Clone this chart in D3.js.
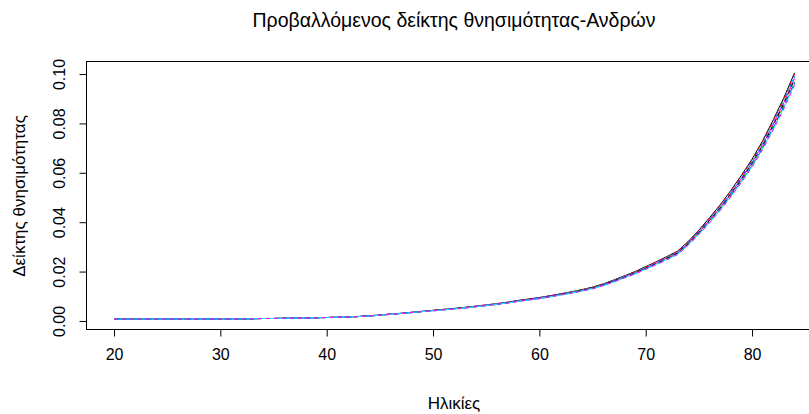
<!DOCTYPE html>
<html>
<head>
<meta charset="utf-8">
<script src="https://d3js.org/d3.v7.min.js"></script>
<style>
body { margin: 0; background: #fff; }
text { font-family: "Liberation Sans", Arial, sans-serif; fill: #000; }
</style>
</head>
<body>
<svg width="809" height="414"></svg>
<script>
// ages on the x axis
const ages = [20,21,22,23,24,25,26,27,28,29,30,31,32,33,34,35,36,37,38,39,
  40,41,42,43,44,45,46,47,48,49,50,51,52,53,54,55,56,57,58,59,
  60,61,62,63,64,65,66,67,68,69,70,71,72,73,74,75,76,77,78,79,
  80,81,82,83,84];

// projected male mortality rates, one array per projection (ages 20..84)
const proj01 = [.0008,.0008,.0008,.0008,.0008,.0008,.0008,.0008,.0008,.0008,.0008,.0008,.0008,.0009,.0010,.0010,.0011,.0011,.0012,.0013,.0014,.0015,.0016,.0018,.0021,.0024,.0028,.0031,.0035,.0039,
  .0043,.0047,.0051,.0055,.0060,.0065,.0070,.0076,.0083,.0089,.0095,.0102,.0110,.0118,.0127,.0137,.0150,.0166,.0183,.0200,.0220,.0240,.0261,.0283,.0322,.0368,.0418,.0470,.0528,.0590,.0655,.0730,.0815,.0905,.1005];
const proj02 = [.0008,.0008,.0008,.0008,.0008,.0008,.0008,.0008,.0008,.0008,.0008,.0008,.0008,.0009,.0010,.0010,.0011,.0011,.0012,.0013,.0014,.0015,.0016,.0018,.0021,.0024,.0028,.0031,.0035,.0039,
  .0043,.0047,.0051,.0055,.0060,.0065,.0070,.0076,.0083,.0089,.0095,.0102,.0110,.0117,.0126,.0136,.0149,.0165,.0182,.0199,.0219,.0239,.0260,.0282,.0321,.0366,.0416,.0468,.0526,.0587,.0652,.0727,.0811,.0901,.1000];
const proj03 = [.0008,.0008,.0008,.0008,.0008,.0008,.0008,.0008,.0008,.0008,.0008,.0008,.0008,.0009,.0010,.0010,.0011,.0011,.0012,.0013,.0014,.0015,.0016,.0018,.0021,.0024,.0028,.0031,.0035,.0039,
  .0043,.0047,.0051,.0055,.0059,.0064,.0069,.0075,.0082,.0088,.0094,.0101,.0109,.0117,.0126,.0136,.0149,.0165,.0181,.0198,.0218,.0238,.0259,.0280,.0319,.0365,.0414,.0466,.0523,.0585,.0649,.0723,.0808,.0897,.0996];
const proj04 = [.0008,.0008,.0008,.0008,.0008,.0008,.0008,.0008,.0008,.0008,.0008,.0008,.0008,.0009,.0010,.0010,.0011,.0011,.0012,.0013,.0014,.0015,.0016,.0018,.0021,.0024,.0028,.0031,.0035,.0039,
  .0043,.0046,.0050,.0054,.0059,.0064,.0069,.0075,.0082,.0088,.0094,.0101,.0109,.0116,.0125,.0135,.0148,.0164,.0181,.0197,.0217,.0237,.0257,.0279,.0318,.0363,.0412,.0464,.0521,.0582,.0646,.0720,.0804,.0893,.0991];
const proj05 = [.0008,.0008,.0008,.0008,.0008,.0008,.0008,.0008,.0008,.0008,.0008,.0008,.0008,.0009,.0010,.0010,.0011,.0011,.0012,.0013,.0014,.0015,.0016,.0018,.0021,.0024,.0028,.0031,.0035,.0039,
  .0042,.0046,.0050,.0054,.0059,.0064,.0069,.0075,.0082,.0087,.0093,.0100,.0108,.0116,.0125,.0134,.0147,.0163,.0180,.0196,.0216,.0236,.0256,.0278,.0316,.0361,.0410,.0462,.0518,.0579,.0643,.0717,.0800,.0889,.0987];
const proj06 = [.0008,.0008,.0008,.0008,.0008,.0008,.0008,.0008,.0008,.0008,.0008,.0008,.0008,.0009,.0010,.0010,.0011,.0011,.0012,.0013,.0014,.0015,.0016,.0018,.0021,.0024,.0028,.0031,.0035,.0039,
  .0042,.0046,.0050,.0054,.0059,.0064,.0068,.0074,.0081,.0087,.0093,.0100,.0108,.0115,.0124,.0134,.0147,.0162,.0179,.0195,.0215,.0235,.0255,.0277,.0315,.0360,.0409,.0459,.0516,.0577,.0640,.0714,.0797,.0885,.0982];
const proj07 = [.0008,.0008,.0008,.0008,.0008,.0008,.0008,.0008,.0008,.0008,.0008,.0008,.0008,.0009,.0010,.0010,.0011,.0011,.0012,.0013,.0014,.0015,.0016,.0018,.0020,.0023,.0027,.0030,.0034,.0038,
  .0042,.0046,.0050,.0054,.0058,.0063,.0068,.0074,.0081,.0087,.0092,.0099,.0107,.0115,.0124,.0133,.0146,.0162,.0178,.0195,.0214,.0233,.0254,.0275,.0313,.0358,.0407,.0457,.0514,.0574,.0637,.0710,.0793,.0881,.0978];
const proj08 = [.0008,.0008,.0008,.0008,.0008,.0008,.0008,.0008,.0008,.0008,.0008,.0008,.0008,.0009,.0010,.0010,.0011,.0011,.0012,.0013,.0014,.0015,.0016,.0018,.0020,.0023,.0027,.0030,.0034,.0038,
  .0042,.0046,.0049,.0053,.0058,.0063,.0068,.0074,.0080,.0086,.0092,.0099,.0107,.0114,.0123,.0133,.0145,.0161,.0177,.0194,.0213,.0232,.0253,.0274,.0312,.0356,.0405,.0455,.0511,.0571,.0634,.0707,.0789,.0877,.0973];
const proj09 = [.0008,.0008,.0008,.0008,.0008,.0008,.0008,.0008,.0008,.0008,.0008,.0008,.0008,.0009,.0010,.0010,.0011,.0011,.0012,.0013,.0014,.0015,.0016,.0018,.0020,.0023,.0027,.0030,.0034,.0038,
  .0041,.0045,.0049,.0053,.0058,.0063,.0067,.0073,.0080,.0086,.0092,.0098,.0106,.0114,.0122,.0132,.0145,.0160,.0176,.0193,.0212,.0231,.0252,.0273,.0310,.0355,.0403,.0453,.0509,.0569,.0631,.0704,.0786,.0872,.0969];
const proj10 = [.0008,.0008,.0008,.0008,.0008,.0008,.0008,.0008,.0008,.0008,.0008,.0008,.0008,.0009,.0010,.0010,.0011,.0011,.0012,.0013,.0014,.0015,.0016,.0018,.0020,.0023,.0027,.0030,.0034,.0038,
  .0041,.0045,.0049,.0053,.0058,.0062,.0067,.0073,.0080,.0085,.0091,.0098,.0106,.0113,.0122,.0131,.0144,.0159,.0176,.0192,.0211,.0230,.0250,.0272,.0309,.0353,.0401,.0451,.0507,.0566,.0628,.0700,.0782,.0868,.0964];
const proj11 = [.0008,.0008,.0008,.0008,.0008,.0008,.0008,.0008,.0008,.0008,.0008,.0008,.0008,.0009,.0010,.0010,.0011,.0011,.0012,.0013,.0014,.0015,.0016,.0018,.0020,.0023,.0027,.0030,.0034,.0038,
  .0041,.0045,.0049,.0053,.0057,.0062,.0067,.0073,.0079,.0085,.0091,.0097,.0105,.0113,.0121,.0131,.0143,.0158,.0175,.0191,.0210,.0229,.0249,.0270,.0308,.0351,.0399,.0449,.0504,.0563,.0626,.0697,.0778,.0864,.0960];
const proj12 = [.0008,.0008,.0008,.0008,.0008,.0008,.0008,.0008,.0008,.0008,.0008,.0008,.0008,.0009,.0010,.0010,.0011,.0011,.0012,.0013,.0014,.0015,.0016,.0018,.0020,.0023,.0027,.0030,.0034,.0038,
  .0041,.0045,.0048,.0052,.0057,.0062,.0067,.0072,.0079,.0085,.0090,.0097,.0105,.0112,.0121,.0130,.0143,.0158,.0174,.0190,.0209,.0228,.0248,.0269,.0306,.0350,.0397,.0447,.0502,.0561,.0623,.0694,.0775,.0860,.0955];

const xTicks = [20,30,40,50,60,70,80];
const yTicks = [0,0.02,0.04,0.06,0.08,0.10];

// R matplot defaults: col = 1:6, lty = 1:5
const colors = ["#000000","#FF0000","#00CD00","#0000FF","#00FFFF","#FF00FF"];
const dashes = [null,"4,4","1,3","1,3,4,3","7,3"];

const series = [proj01,proj02,proj03,proj04,proj05,proj06,proj07,proj08,proj09,proj10,proj11,proj12];

const svg = d3.select("svg");

const x = d3.scaleLinear().domain([17.44, 86.56]).range([86.8, 821.8]);
const y = d3.scaleLinear().domain([-0.0035, 0.105]).range([329.6, 61.7]);

const line = d3.line()
  .x((d, i) => x(ages[i]))
  .y(d => y(d));

svg.append("g").selectAll("path")
  .data(series)
  .join("path")
  .attr("d", line)
  .attr("fill", "none")
  .attr("stroke", (d, i) => colors[i % 6])
  .attr("stroke-width", 1)
  .attr("stroke-dasharray", (d, i) => dashes[i % 5]);

// plot box
svg.append("rect")
  .attr("x", 86.5).attr("y", 61.5)
  .attr("width", 740).attr("height", 268)
  .attr("fill", "none").attr("stroke", "#000");

// x axis
const gx = svg.append("g")
  .attr("transform", "translate(0,329.5)")
  .call(d3.axisBottom(x).tickValues(xTicks).tickSize(7).tickPadding(12).tickFormat(d3.format("d")));
gx.select(".domain").remove();
gx.selectAll("line").attr("stroke", "#000");
gx.selectAll("text").style("font-size", "16px").attr("fill", "#000");

// y axis, labels parallel to the axis
const gy = svg.append("g")
  .attr("transform", "translate(86.5,0)")
  .call(d3.axisLeft(y).tickValues(yTicks).tickSize(7).tickFormat(d3.format(".2f")));
gy.select(".domain").remove();
gy.selectAll("line").attr("stroke", "#000");
gy.selectAll("text")
  .style("font-size", "16px")
  .attr("fill", "#000")
  .attr("transform", "rotate(-90)")
  .attr("x", 0).attr("y", -22).attr("dy", 0)
  .attr("text-anchor", "middle");

// titles
svg.append("text")
  .attr("x", 454).attr("y", 27)
  .attr("text-anchor", "middle")
  .style("font-size", "19.5px")
  .text("Προβαλλόμενος δείκτης θνησιμότητας-Ανδρών");

svg.append("text")
  .attr("x", 454).attr("y", 409)
  .attr("text-anchor", "middle")
  .style("font-size", "17px")
  .text("Ηλικίες");

svg.append("text")
  .attr("transform", "translate(25,196) rotate(-90)")
  .attr("text-anchor", "middle")
  .style("font-size", "17px")
  .text("Δείκτης θνησιμότητας");
</script>
</body>
</html>
